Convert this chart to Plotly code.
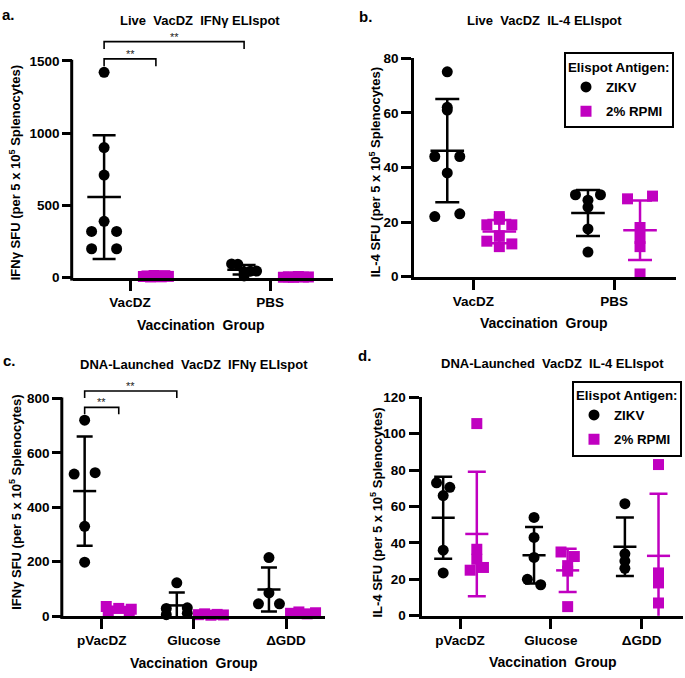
import numpy as np
import plotly.graph_objects as go

W, H = 685, 678
FONT = "Liberation Sans, Arial, sans-serif"
BLACK = "#000000"
MAG = "#C000C0"

# ---------------- data ----------------
live_groups = ["VacDZ", "PBS"]
dna_groups = ["pVacDZ", "Glucose", "ΔGDD"]
antigens = ["ZIKV", "2% RPMI"]

# a. Live VacDZ IFNγ ELIspot
a_zikv = [[1420, 900, 710, 390, 320, 320, 200, 200], [95, 92, 40, 45, 12, 46]]
a_rpmi = [[8, 12, 5, 15, 10, 6, 14, 9], [3, 6, 2, 8, 4, 5]]
# b. Live VacDZ IL-4 ELIspot
b_zikv = [[75, 62, 61, 44, 44, 38, 22, 23], [30, 30, 28, 25.5, 17.5, 9]]
b_rpmi = [[19, 22, 21, 19, 15, 13, 11, 12], [28.5, 29.5, 18, 14, 11, 1]]
# c. DNA-Launched VacDZ IFNγ ELIspot
c_zikv = [[720, 522, 527, 330, 198], [122, 5, 28, 30, 10], [215, 85, 45, 45]]
c_rpmi = [[35, 28, 18, 10, 25], [5, 8, 3, 6, 4], [10, 15, 8, 12]]
# d. DNA-Launched VacDZ IL-4 ELIspot
d_zikv = [[73, 70.5, 66, 36, 23.5], [54, 43, 32, 20, 17], [61.5, 34, 30, 26]]
d_rpmi = [[105.5, 36.5, 31, 25, 26.5], [35, 32.5, 27.5, 24.5, 5], [83, 23.5, 18, 7]]

a_yticks = [0, 500, 1000, 1500]
b_yticks = [0, 20, 40, 60, 80]
c_yticks = [0, 200, 400, 600, 800]
d_yticks = [0, 20, 40, 60, 80, 100, 120]

# ---------------- layout geometry (pixels) ----------------
# left/right: plot-area edges; y0: pixel of value 0; ytop: pixel of the last y tick
panels = [
    dict(n="", letter="a.", groups=live_groups, zikv=a_zikv, rpmi=a_rpmi, yticks=a_yticks,
         left=73.2, right=333, y0=276.8, ytop=55, R=1700, cat0=130, step=140,
         title="Live  VacDZ  IFNγ ELIspot", tpos=(200, 14), lpos=(0, 8),
         ytitle="IFNγ SFU (per 5 x 10<sup>5</sup> Splenocytes)", ypos=(15, 170), xpos=(201, 325),
         legend=None, brackets=True, mean_sz=24, cap=11.5, pair=25),
    dict(n="2", letter="b.", groups=live_groups, zikv=b_zikv, rpmi=b_rpmi, yticks=b_yticks,
         left=414.2, right=676, y0=275.8, ytop=52.3, R=80, cat0=473.3, step=140.7,
         title="Live  VacDZ  IL-4 ELIspot", tpos=(544, 14), lpos=(357, 10),
         ytitle="IL-4 SFU (per 5 x 10<sup>5</sup> Splenocytes)", ypos=(375, 169), xpos=(544, 323),
         legend="legend", brackets=False, mean_sz=24, cap=12, pair=25),
    dict(n="3", letter="c.", groups=dna_groups, zikv=c_zikv, rpmi=c_rpmi, yticks=c_yticks,
         left=63.3, right=325, y0=622.8, ytop=400.3, R=860, cat0=101.7, step=92.15,
         title="DNA-Launched  VacDZ  IFNγ ELIspot", tpos=(194, 366), lpos=(1, 361),
         ytitle="IFNγ SFU (per 5 x 10<sup>5</sup> Splenocytes)", ypos=(15, 507), xpos=(194, 671),
         legend=None, brackets=True, mean_sz=16.5, cap=8, pair=21),
    dict(n="4", letter="d.", groups=dna_groups, zikv=d_zikv, rpmi=d_rpmi, yticks=d_yticks,
         left=421.5, right=683, y0=622.5, ytop=399, R=120, cat0=460, step=90.85,
         title="DNA-Launched  VacDZ  IL-4 ELIspot", tpos=(552, 365), lpos=(356, 356),
         ytitle="IL-4 SFU (per 5 x 10<sup>5</sup> Splenocytes)", ypos=(376, 517), xpos=(552.5, 670),
         legend="legend2", brackets=False, mean_sz=16.5, cap=9, pair=13.3),
]

OFF = 0.185  # half-distance between ZIKV and RPMI columns (category units)
MS = 11


def px2x(x):
    return x / W


def px2y(y):
    return 1 - y / H


def jitter(vals, ppu_y, ppc, pair):
    bins = {}
    for i, v in enumerate(vals):
        b = int(round(v / (MS / ppu_y)))
        bins.setdefault(b, []).append(i)
    off = [0.0] * len(vals)
    half = 12.5 if pair > 20 else pair / 2
    for idx in bins.values():
        n = len(idx)
        if n == 1:
            continue
        step = min(pair, 2 * half / (n - 1))
        for k, i in enumerate(idx):
            off[i] = (k - (n - 1) / 2) * step / ppc
    return off


fig = go.Figure()
annotations = []
shapes = []
tfont = dict(family=FONT, size=13.5, color=BLACK, weight="bold")

for p in panels:
    xa, ya = "x" + p["n"], "y" + p["n"]
    left, right = p["left"], p["right"]
    ppc = p["step"]
    ppu = (p["y0"] - p["ytop"]) / p["yticks"][-1]
    bottom = p["y0"]
    top = bottom - p["R"] * ppu
    xr = [(left - p["cat0"]) / ppc, (right - p["cat0"]) / ppc]
    for sign, data, color, sym, name in [(-1, p["zikv"], BLACK, "circle", antigens[0]),
                                         (1, p["rpmi"], MAG, "square", antigens[1])]:
        xs, ys = [], []
        for gi, vals in enumerate(data):
            jit = jitter(vals, ppu, ppc, p["pair"])
            for v, j in zip(vals, jit):
                xs.append(gi + sign * OFF + j)
                ys.append(v)
        fig.add_trace(go.Scatter(
            x=xs, y=ys, mode="markers", name=name, xaxis=xa, yaxis=ya,
            marker=dict(symbol=sym, size=MS, color=color, line=dict(width=0)),
            cliponaxis=False, showlegend=p["legend"] is not None,
            legend=p["legend"] if p["legend"] else "legend",
            legendgroup=p["n"] + name, hoverinfo="y"))
        means = [float(np.mean(v)) for v in data]
        sds = [float(np.std(v, ddof=1)) for v in data]
        fig.add_trace(go.Scatter(
            x=[gi + sign * OFF for gi in range(len(data))], y=means, mode="markers",
            xaxis=xa, yaxis=ya, showlegend=False, hoverinfo="y",
            marker=dict(symbol="line-ew", size=p["mean_sz"], color=color,
                        line=dict(width=2.5, color=color)),
            error_y=dict(type="data", array=sds, visible=True, color=color,
                         thickness=2.5, width=p["cap"]),
            cliponaxis=False))
    if p["brackets"]:
        R = p["R"]
        y_small = max(p["zikv"][0]) + 0.055 * R
        y_big = y_small + 0.07 * R
        drop = 0.03 * R
        for (x0, x1, yb) in [(0 - OFF, 0 + OFF, y_small), (0 - OFF, 1 - OFF, y_big)]:
            fig.add_trace(go.Scatter(
                x=[x0, x0, x1, x1], y=[yb - drop, yb, yb, yb - drop], mode="lines",
                xaxis=xa, yaxis=ya, showlegend=False, hoverinfo="skip",
                line=dict(color=BLACK, width=1.6)))
            annotations.append(dict(x=(x0 + x1) / 2, y=yb, xref=xa, yref=ya, text="**",
                                    showarrow=False, yanchor="bottom", yshift=-3,
                                    font=dict(family=FONT, size=11, color="#222")))
        # y axis line only up to the last tick
        shapes.append(dict(type="line", xref="paper", yref="paper",
                           x0=px2x(left - 1.5), x1=px2x(left - 1.5),
                           y0=px2y(bottom + 3), y1=px2y(p["ytop"] - 1),
                           line=dict(color=BLACK, width=3)))

    axis_common = dict(showgrid=False, zeroline=False, ticks="outside", ticklen=10,
                       tickwidth=3, tickcolor=BLACK, linecolor=BLACK, linewidth=3,
                       tickfont=tfont)
    fig.update_layout({
        ("xaxis" + p["n"]): dict(axis_common, domain=[px2x(left), px2x(right)],
                                 range=xr, anchor=ya, showline=True,
                                 tickvals=list(range(len(p["groups"]))), ticktext=p["groups"]),
        ("yaxis" + p["n"]): dict(axis_common, domain=[px2y(bottom), px2y(top)],
                                 range=[0, p["R"]], anchor=xa, showline=not p["brackets"],
                                 tickvals=p["yticks"]),
    })
    annotations += [
        dict(x=px2x(p["tpos"][0]), y=px2y(p["tpos"][1]), xref="paper", yref="paper",
             text=p["title"], showarrow=False, xanchor="center", yanchor="middle",
             font=dict(tfont, size=13)),
        dict(x=px2x(p["lpos"][0]), y=px2y(p["lpos"][1]), xref="paper", yref="paper",
             text=p["letter"], showarrow=False, xanchor="left", yanchor="middle",
             font=dict(family=FONT, size=15, color=BLACK, weight="bold")),
        dict(x=px2x(p["ypos"][0]), y=px2y(p["ypos"][1]), xref="paper", yref="paper",
             text=p["ytitle"], showarrow=False, xanchor="center", yanchor="middle",
             textangle=-90, font=dict(tfont, size=13)),
        dict(x=px2x(p["xpos"][0]), y=px2y(p["xpos"][1]), xref="paper", yref="paper",
             text="Vaccination  Group", showarrow=False, xanchor="center", yanchor="middle",
             font=dict(family=FONT, size=14, color=BLACK, weight="bold")),
    ]

leg_common = dict(xanchor="left", yanchor="top", bgcolor="white", bordercolor=BLACK,
                  borderwidth=2, font=dict(tfont, size=13.3), tracegroupgap=4, itemclick=False,
                  entrywidth=70, entrywidthmode="pixels",
                  title=dict(text="Elispot Antigen:", font=dict(tfont, size=13.3)))
fig.update_layout(
    width=W, height=H, margin=dict(l=0, r=0, t=0, b=0),
    paper_bgcolor="white", plot_bgcolor="white",
    font=dict(family=FONT, color=BLACK),
    legend=dict(leg_common, x=px2x(564), y=px2y(46.5)),
    legend2=dict(leg_common, x=px2x(572), y=px2y(382)),
    annotations=annotations, shapes=shapes,
)

fig.write_html("out.html", config={"displayModeBar": False},
               post_script="document.body.style.margin='0px';"
                           "document.documentElement.style.overflow='hidden';")
